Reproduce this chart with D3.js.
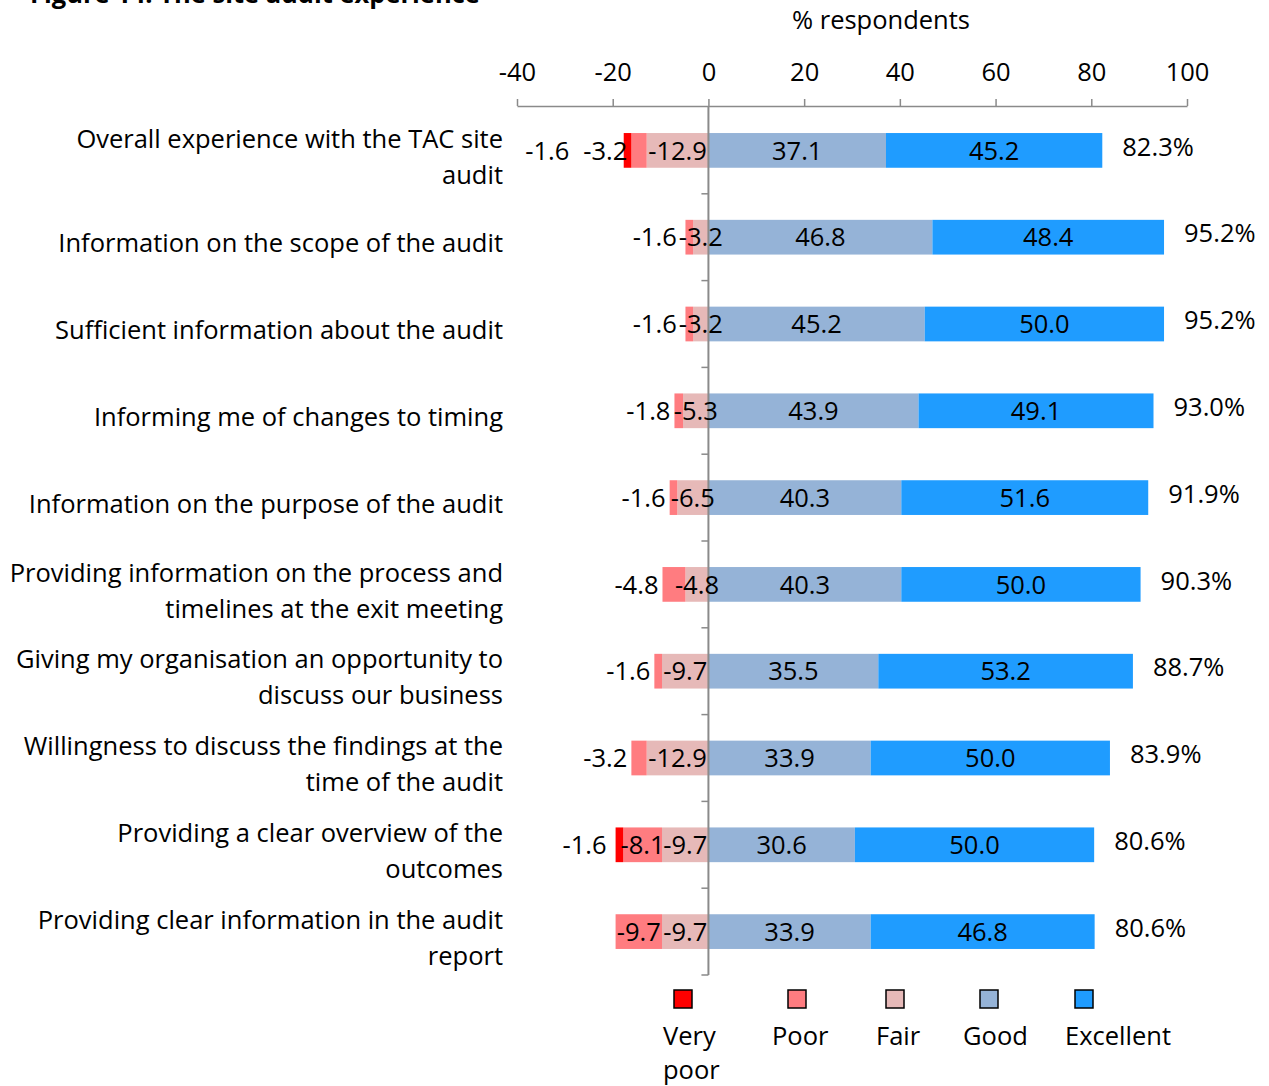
<!DOCTYPE html>
<html>
<head>
<meta charset="UTF-8">
<script src="https://cdn.jsdelivr.net/npm/d3@7"></script>
<style>
  body { margin: 0; background: #fff; }
  svg { display: block; font-family: 'Open Sans', sans-serif; }
  text { fill: #000; }
</style>
</head>
<body>
<svg id="chart" width="1269" height="1086"></svg>
<script>
const categories = [
  "Overall experience with the TAC site\naudit",
  "Information on the scope of the audit",
  "Sufficient information about the audit",
  "Informing me of changes to timing",
  "Information on the purpose of the audit",
  "Providing information on the process and\ntimelines at the exit meeting",
  "Giving my organisation an opportunity to\ndiscuss our business",
  "Willingness to discuss the findings at the\ntime of the audit",
  "Providing a clear overview of the\noutcomes",
  "Providing clear information in the audit\nreport"
];
const veryPoor  = [1.6, 0, 0, 0, 0, 0, 0, 0, 1.6, 0];
const poor      = [3.2, 1.6, 1.6, 1.8, 1.6, 4.8, 1.6, 3.2, 8.1, 9.7];
const fair      = [12.9, 3.2, 3.2, 5.3, 6.5, 4.8, 9.7, 12.9, 9.7, 9.7];
const good      = [37.1, 46.8, 45.2, 43.9, 40.3, 40.3, 35.5, 33.9, 30.6, 33.9];
const excellent = [45.2, 48.4, 50.0, 49.1, 51.6, 50.0, 53.2, 50.0, 50.0, 46.8];
const totals    = [82.3, 95.2, 95.2, 93.0, 91.9, 90.3, 88.7, 83.9, 80.6, 80.6];
const xTicks = [-40, -20, 0, 20, 40, 60, 80, 100];
const seriesNames = ["Very poor", "Poor", "Fair", "Good", "Excellent"];
const seriesColors = ["#FF0000", "#FF7C80", "#E6B9B8", "#95B3D7", "#1F9CFF"];

const svg = d3.select("#chart");
const FS = 25.5;
const axisColor = "#8a8a8a";

const x = d3.scaleLinear().domain([-40, 100]).range([517, 1187]);
const y = d3.scaleBand().domain(d3.range(categories.length))
  .range([107, 975]).paddingInner(0.6).paddingOuter(0.3);
const color = d3.scaleOrdinal(seriesNames, seriesColors);

// rows with negatives for the left side
const rows = categories.map((c, i) => ({
  i,
  "Good": good[i], "Excellent": excellent[i],
  "Fair": -fair[i], "Poor": -poor[i], "Very poor": -veryPoor[i]
}));
const stack = d3.stack()
  .keys(["Good", "Excellent", "Fair", "Poor", "Very poor"])
  .offset(d3.stackOffsetDiverging);
const series = stack(rows);

// partial title at the very top
svg.append("text")
  .attr("x", 30).attr("y", 3)
  .style("font-size", FS + "px").style("font-weight", "bold")
  .text("Figure 14: The site audit experience");

// axis title
svg.append("text")
  .attr("x", 881).attr("y", 29)
  .attr("text-anchor", "middle")
  .style("font-size", FS + "px")
  .text("% respondents");

// bars
const gBars = svg.append("g");
series.forEach(s => {
  gBars.append("g").attr("fill", color(s.key))
    .selectAll("rect")
    .data(s.filter(d => d[1] !== d[0]))
    .join("rect")
    .attr("x", d => x(Math.min(d[0], d[1])))
    .attr("y", d => y(d.data.i))
    .attr("width", d => Math.abs(x(d[1]) - x(d[0])))
    .attr("height", y.bandwidth());
});

// top axis
const axis = svg.append("g")
  .attr("transform", "translate(0,106)")
  .call(d3.axisTop(x).tickValues(xTicks).tickFormat(d => String(d))
    .tickSize(7).tickSizeOuter(0).tickPadding(18));
axis.select(".domain").attr("stroke", axisColor).attr("stroke-width", 1.5);
axis.selectAll(".tick line").attr("stroke", axisColor).attr("stroke-width", 1.5);
axis.selectAll(".tick text")
  .attr("fill", "#000")
  .style("font-size", FS + "px")
  .style("font-family", "'Open Sans', sans-serif");

// zero line with category ticks
svg.append("line")
  .attr("x1", x(0)).attr("x2", x(0))
  .attr("y1", 106).attr("y2", 975)
  .attr("stroke", axisColor).attr("stroke-width", 2);
svg.append("g").selectAll("line")
  .data(d3.range(1, categories.length + 1))
  .join("line")
  .attr("x1", x(0) - 7).attr("x2", x(0))
  .attr("y1", k => y.range()[0] + k * y.step())
  .attr("y2", k => y.range()[0] + k * y.step())
  .attr("stroke", axisColor).attr("stroke-width", 1.5);

// category labels
const gCat = svg.append("g");
categories.forEach((c, i) => {
  const lines = c.split("\n");
  const cy = y(i) + y.bandwidth() / 2 + 6;
  const t = gCat.append("text")
    .attr("text-anchor", "end")
    .style("font-size", FS + "px");
  lines.forEach((ln, j) => {
    t.append("tspan")
      .attr("x", 503)
      .attr("y", cy + (j - (lines.length - 1) / 2) * 36)
      .attr("dy", "0.36em")
      .text(ln);
  });
});

// value labels
const gLab = svg.append("g").style("font-size", FS + "px");
const fmt = d3.format(".1f");
rows.forEach((r, i) => {
  const cy = y(i) + y.bandwidth() / 2;
  // positive segments, centered
  series.filter(s => s.key === "Good" || s.key === "Excellent").forEach(s => {
    const d = s[i];
    gLab.append("text")
      .attr("x", (x(d[0]) + x(d[1])) / 2).attr("y", cy).attr("dy", "0.36em")
      .attr("text-anchor", "middle")
      .text(fmt(d[1] - d[0]));
  });
  // negative segments from the zero line outwards
  let prevLeft = Infinity;
  ["Fair", "Poor", "Very poor"].forEach(key => {
    const d = series.find(s => s.key === key)[i];
    const v = d[1] - d[0];
    if (v === 0) return;
    const segL = x(Math.min(d[0], d[1])), segR = x(Math.max(d[0], d[1]));
    const t = gLab.append("text").attr("y", cy).attr("dy", "0.36em")
      .text("-" + fmt(Math.abs(v)));
    const w = t.node().getComputedTextLength();
    let right;
    if (key === "Fair" || w <= segR - segL + 8) {
      right = (segL + segR) / 2 + w / 2;
    } else {
      const gap = key === "Very poor" ? 14 : 2;
      right = Math.min(segL - 4, prevLeft - gap);
    }
    t.attr("x", right - w);
    prevLeft = right - w;
  });
  // total labels
  gLab.append("text")
    .attr("x", x(good[i] + excellent[i]) + 20).attr("y", cy - 4).attr("dy", "0.36em")
    .text(fmt(totals[i]) + "%");
});

// legend
const legendX = [663, 772, 876, 963, 1065];
const legendSq = [11, 16, 10, 17, 10];
const legendLabels = [["Very", "poor"], ["Poor"], ["Fair"], ["Good"], ["Excellent"]];
const gLeg = svg.append("g");
seriesNames.forEach((name, k) => {
  gLeg.append("rect")
    .attr("x", legendX[k] + legendSq[k]).attr("y", 990)
    .attr("width", 18).attr("height", 18)
    .attr("fill", color(name))
    .attr("stroke", "#000").attr("stroke-width", 1.5);
  const t = gLeg.append("text").style("font-size", FS + "px");
  legendLabels[k].forEach((ln, j) => {
    t.append("tspan").attr("x", legendX[k]).attr("y", 1045 + j * 34).text(ln);
  });
});
</script>
</body>
</html>
